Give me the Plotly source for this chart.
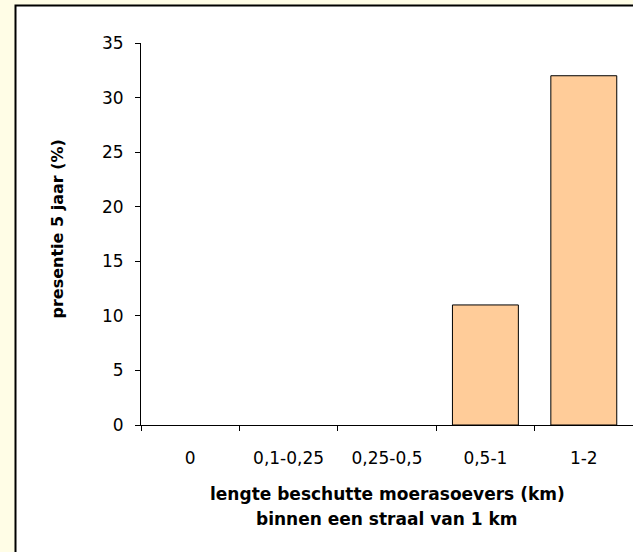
import plotly.graph_objects as go

categories = ["0", "0,1-0,25", "0,25-0,5", "0,5-1", "1-2"]
values = [0, 0, 0, 11, 32]
y_ticks = [0, 5, 10, 15, 20, 25, 30, 35]

W, H = 633, 552
L, R, T, B = 141, 0, 43, 127
PW, PH = W - L - R, H - T - B

def px_x(x):
    return (x - L) / PW

def px_y(y):
    return (H - B - y) / PH

fig = go.Figure()
fig.add_trace(go.Bar(
    x=categories, y=values,
    marker=dict(color="#FFCC99",
                line=dict(color="black", width=[0 if v == 0 else 1 for v in values])),
))

fig.add_shape(type="rect", xref="paper", yref="paper",
              x0=px_x(15.5), x1=1.2, y0=-0.6, y1=px_y(5.5),
              line=dict(color="black", width=2), fillcolor="white", layer="below")

font_t = "DejaVu Sans"
fig.add_annotation(text="<b>lengte beschutte moerasoevers (km)</b>", xref="paper", yref="paper",
                   x=px_x(387), y=px_y(494), showarrow=False, xanchor="center", yanchor="middle",
                   font=dict(family=font_t, size=17, color="black"))
fig.add_annotation(text="<b>binnen een straal van 1 km</b>", xref="paper", yref="paper",
                   x=px_x(387), y=px_y(519), showarrow=False, xanchor="center", yanchor="middle",
                   font=dict(family=font_t, size=17, color="black"))
fig.add_annotation(text="<b>presentie 5 jaar (%)</b>", xref="paper", yref="paper",
                   x=px_x(57), y=px_y(229.5), showarrow=False, xanchor="center", yanchor="middle",
                   textangle=-90, font=dict(family=font_t, size=16, color="black"))

fig.update_layout(
    width=W, height=H,
    margin=dict(l=L, r=R, t=T, b=B, pad=0),
    paper_bgcolor="#FFFDE6", plot_bgcolor="white",
    bargap=0.33, showlegend=False,
    font=dict(family=font_t, size=16, color="black"),
)
fig.update_xaxes(type="category", range=[-0.5, 4.5], showline=True, linecolor="black", linewidth=1,
                 ticks="outside", tickson="boundaries", ticklen=5, tickcolor="black",
                 ticklabelstandoff=18,
                 showgrid=False, zeroline=False, tickfont=dict(family=font_t, size=17))
fig.update_yaxes(range=[0, 35], tickvals=y_ticks, showline=True, linecolor="black", linewidth=1,
                 ticks="outside", ticklen=5, tickcolor="black", showgrid=False, zeroline=False,
                 ticklabelstandoff=8,
                 tickfont=dict(family=font_t, size=17))

fig.write_html("out.html", config={"displayModeBar": False},
               post_script="document.body.style.margin='0';document.body.style.overflow='hidden';")
